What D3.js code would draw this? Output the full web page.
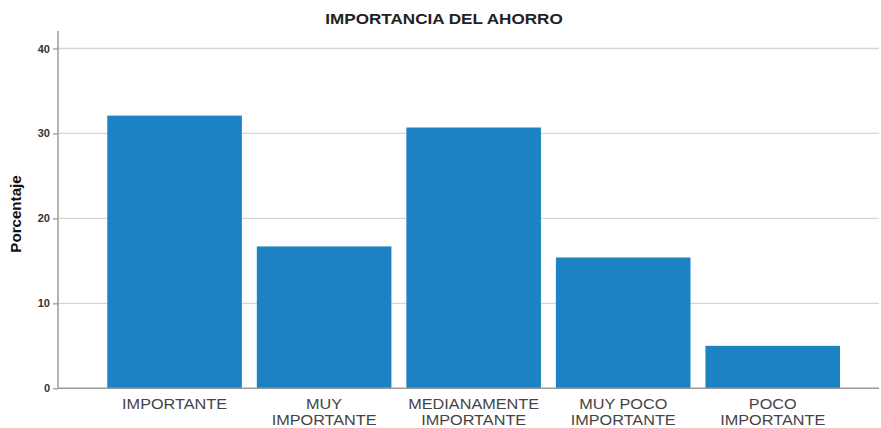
<!DOCTYPE html>
<html>
<head>
<meta charset="utf-8">
<script src="https://cdn.jsdelivr.net/npm/d3@7"></script>
<style>
body { margin:0; background:#fff; }
</style>
</head>
<body>
<svg id="chart"></svg>
<script>
var categories = [["IMPORTANTE"], ["MUY", "IMPORTANTE"], ["MEDIANAMENTE", "IMPORTANTE"], ["MUY POCO", "IMPORTANTE"], ["POCO", "IMPORTANTE"]];
var porcentajes = [32.1, 16.7, 30.7, 15.4, 5.0];
var yTicks = [0, 10, 20, 30, 40];

var screen = { width:881, height:428 };

var svg = d3.select("#chart")
            .attr("width", screen.width)
            .attr("height", screen.height)
            .style("font-family", "Liberation Sans, Arial, sans-serif");

var axisX = 58, plotRight = 879, axisTop = 31;

var xScale = d3.scaleBand()
               .domain(d3.range(categories.length))
               .range([99.8, 847.5])
               .paddingInner(0.1)
               .paddingOuter(0.05);
var yScale = d3.scaleLinear()
               .domain([0, 40])
               .range([388.3, 48.5]);

// widen text a bit, the reference glyphs look stretched
var stretch = function(sel, k) {
  sel.each(function(){
    var w = this.getComputedTextLength();
    d3.select(this).attr("textLength", w * k).attr("lengthAdjust", "spacingAndGlyphs");
  });
};

// gridlines
svg.append("g").selectAll("line")
   .data(yTicks.filter(function(d){ return d > 0; }))
   .enter()
   .append("line")
   .attr("x1", axisX).attr("x2", plotRight)
   .attr("y1", function(d){ return yScale(d); })
   .attr("y2", function(d){ return yScale(d); })
   .attr("stroke", "#d6d6d6")
   .attr("stroke-width", 1.3);

// bars
svg.append("g").selectAll("rect")
   .data(porcentajes)
   .enter()
   .append("rect")
   .attr("x", function(d,i){ return xScale(i); })
   .attr("y", function(d){ return yScale(d); })
   .attr("width", xScale.bandwidth())
   .attr("height", function(d){ return yScale(0) - yScale(d); })
   .attr("fill", "#1d82c3");

// y axis
var yAxis = d3.axisLeft(yScale).tickValues(yTicks).tickSize(5).tickPadding(3);
var gy = svg.append("g")
            .attr("transform", "translate(" + axisX + ",0)")
            .call(yAxis);
gy.select(".domain").remove();
gy.selectAll(".tick line").attr("stroke", "#999").attr("stroke-width", 1.3);
gy.selectAll(".tick text")
  .attr("fill", "#333")
  .style("font-size", "11px")
  .style("font-weight", "bold");

svg.append("line")
   .attr("x1", axisX).attr("x2", axisX)
   .attr("y1", axisTop).attr("y2", yScale(0))
   .attr("stroke", "#9a9a9a").attr("stroke-width", 1.5);
svg.append("line")
   .attr("x1", axisX).attr("x2", plotRight)
   .attr("y1", yScale(0)).attr("y2", yScale(0))
   .attr("stroke", "#9a9a9a").attr("stroke-width", 1.5);

// category labels, one text per line
var labels = svg.append("g").selectAll("g")
   .data(categories)
   .enter()
   .append("g")
   .attr("transform", function(d,i){ return "translate(" + (xScale(i) + xScale.bandwidth()/2) + ",0)"; });
labels.selectAll("text")
   .data(function(d){ return d; })
   .enter()
   .append("text")
   .attr("text-anchor", "middle")
   .attr("fill", "#444")
   .style("font-size", "14px")
   .attr("y", function(d,i){ return 409 + i*16; })
   .text(function(d){ return d; })
   .call(stretch, 1.16);

// title
svg.append("text")
   .attr("x", 444).attr("y", 24)
   .attr("text-anchor", "middle")
   .attr("fill", "#222")
   .style("font-size", "15px")
   .style("font-weight", "bold")
   .text("IMPORTANCIA DEL AHORRO")
   .call(stretch, 1.14);

// y label
svg.append("text")
   .attr("transform", "translate(21,214) rotate(-90)")
   .attr("text-anchor", "middle")
   .attr("fill", "#111")
   .style("font-size", "14px")
   .style("font-weight", "bold")
   .text("Porcentaje")
   .call(stretch, 1.08);
</script>
</body>
</html>
